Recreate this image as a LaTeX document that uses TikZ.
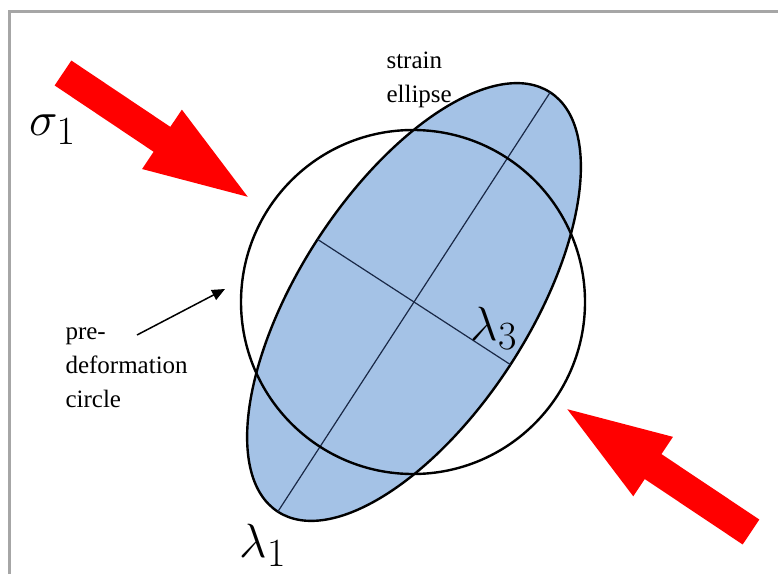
\documentclass[tikz,border=0pt]{standalone}
\usepackage{fontspec}
\setmainfont{Liberation Serif}
\usetikzlibrary{positioning,arrows.meta,calc}
\definecolor{strainblue}{RGB}{164,194,230}
\definecolor{axisnavy}{RGB}{25,40,70}

\begin{document}
\begin{tikzpicture}[x=1pt, y=1pt, every node/.style={font=\fontsize{25}{34}\selectfont},
  big/.style={font=\Huge, scale=1.93, transform shape, inner sep=0pt},
  stress/.style={red, line width=30pt, -{Triangle[length=118pt,width=60pt]}},
  outline/.style={black, line width=2.4pt},
  axis/.style={axisnavy, line width=1.2pt}]
	\useasboundingbox (0,0) rectangle (778,574);
	\draw[gray!70, line width=3pt] (9.5,0) -- (9.5,562) -- (778,562);
	\coordinate (O) at (414,272);
	% strain ellipse and its axes
	\begin{scope}[shift={(O)}, rotate=57]
		\draw[outline, fill=strainblue] (0,0) ellipse[x radius=250, y radius=115];
	\end{scope}
	\coordinate (M1) at ($(O)+(237:250)$);
	\coordinate (M2) at ($(O)+(57:250)$);
	\coordinate (N1) at ($(O)+(147:115)$);
	\coordinate (N2) at ($(O)+(-33:115)$);
	\draw[axis] (M1) -- (M2);
	\draw[axis] (N1) -- (N2);
	% pre-deformation circle
	\draw[outline] (413,272) circle[radius=172];
	% stress arrows
	\coordinate (t1) at (63,501);
	\coordinate (h1) at (260,369);
	\coordinate (t2) at (751,42);
	\coordinate (h2) at (555,173);
	\draw[stress] (t1) -- (h1);
	\draw[stress] (t2) -- (h2);
	% labels
	\node[big] (sig) at (53,444) {$\sigma_1$};
	\node[big] (lam1) at (263,29) {$\lambda_1$};
	\node[big] (lam3) at (494,246) {$\lambda_3$};
	\node[align=left, anchor=west] (strain) at (383,494) {strain\\ellipse};
	\node[align=left, anchor=west] (pre) at (62,206) {pre-\\deformation\\circle};
	\coordinate (p1) at (137,239);
	\coordinate (p2) at (225,285);
	\draw[black, line width=1.5pt, -{Triangle[length=13pt,width=11pt]}] (p1) -- (p2);
\end{tikzpicture}
\end{document}
